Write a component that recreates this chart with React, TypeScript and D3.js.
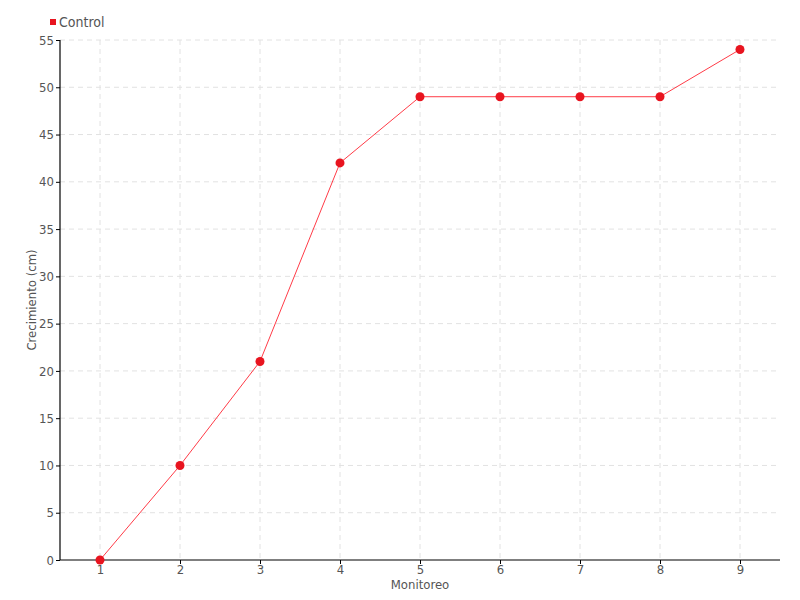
import React, { useEffect, useRef } from 'react'
import * as d3 from 'd3'

const monitoreo = [1, 2, 3, 4, 5, 6, 7, 8, 9]
const control = [0, 10, 21, 42, 49, 49, 49, 49, 54]
const yTicks = [0, 5, 10, 15, 20, 25, 30, 35, 40, 45, 50, 55]

const App = () => {
  const svgRef = useRef<SVGSVGElement>(null)

  useEffect(() => {
    const w = 800
    const h = 600
    const m = { top: 40, right: 20, bottom: 40, left: 60 }
    const font = "'DejaVu Sans Condensed', 'Liberation Sans Narrow', sans-serif"
    const textColor = '#555'

    const svg = d3.select(svgRef.current)
    svg.selectAll('*').remove()

    const x = d3.scaleLinear().domain([0.5, 9.5]).range([m.left, w - m.right])
    const y = d3.scaleLinear().domain([0, 55]).range([h - m.bottom, m.top])

    // grid
    const grid = svg.append('g')
    grid.selectAll('.hg').data(yTicks.filter(d => d > 0)).join('line')
      .attr('x1', m.left).attr('x2', w - m.right)
      .attr('y1', d => y(d)).attr('y2', d => y(d))
      .attr('stroke', '#e2e2e2').attr('stroke-dasharray', '5,4')
    grid.selectAll('.vg').data(monitoreo).join('line')
      .attr('x1', d => x(d)).attr('x2', d => x(d))
      .attr('y1', m.top).attr('y2', h - m.bottom)
      .attr('stroke', '#e2e2e2').attr('stroke-dasharray', '5,4')

    // axes
    const xAxis = svg.append('g')
      .attr('transform', `translate(0, ${h - m.bottom})`)
      .call(d3.axisBottom(x).tickValues(monitoreo).tickSize(4).tickPadding(1).tickFormat(d3.format('d')))
    const yAxis = svg.append('g')
      .attr('transform', `translate(${m.left}, 0)`)
      .call(d3.axisLeft(y).tickValues(yTicks).tickSize(4).tickPadding(2))
    for (const a of [xAxis, yAxis]) {
      a.select('.domain').attr('stroke', '#000').attr('stroke-width', 1.2)
      a.selectAll('.tick line').attr('stroke', '#000')
      a.selectAll('.tick text').attr('fill', textColor).style('font-family', font).style('font-size', '13px')
    }
    xAxis.select('.domain').attr('d', `M${m.left},0H${w - m.right}`)
    yAxis.select('.domain').attr('d', `M0,${m.top}V${h - m.bottom}`)

    // line and points
    const line = d3.line<number>()
      .x((d, i) => x(monitoreo[i]))
      .y(d => y(d))
    svg.append('path')
      .datum(control)
      .attr('d', line)
      .attr('fill', 'none')
      .attr('stroke', '#ff3b47')
      .attr('stroke-width', 1)
    svg.selectAll('.pt').data(control).join('circle')
      .attr('cx', (d, i) => x(monitoreo[i]))
      .attr('cy', d => y(d))
      .attr('r', 4.5)
      .attr('fill', '#e8141f')

    // labels
    svg.append('text')
      .attr('x', (m.left + w - m.right) / 2).attr('y', 589)
      .attr('text-anchor', 'middle')
      .attr('fill', textColor).style('font-family', font).style('font-size', '13px')
      .text('Monitoreo')
    svg.append('text')
      .attr('transform', `translate(36, ${(m.top + h - m.bottom) / 2}) rotate(-90)`)
      .attr('text-anchor', 'middle')
      .attr('fill', textColor).style('font-family', font).style('font-size', '13px')
      .text('Crecimiento (cm)')

    // legend
    svg.append('rect')
      .attr('x', 50).attr('y', 19).attr('width', 6).attr('height', 6)
      .attr('fill', '#e8141f')
    svg.append('text')
      .attr('x', 59).attr('y', 27)
      .attr('fill', textColor).style('font-family', font).style('font-size', '14px')
      .text('Control')
  }, [])

  return (
    <svg ref={svgRef} width={800} height={600}
      style={{ position: 'absolute', left: 0, top: 0, background: '#fff' }} />
  )
}

export default App
